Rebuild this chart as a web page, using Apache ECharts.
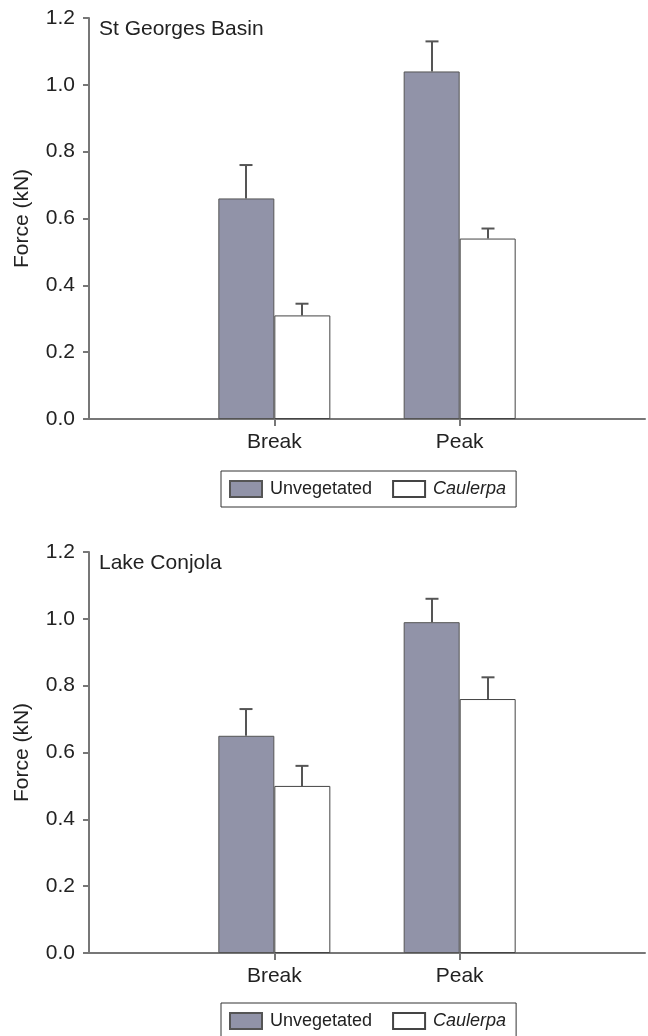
<!DOCTYPE html>
<html>
<head>
<meta charset="utf-8">
<script src="https://cdn.jsdelivr.net/npm/echarts@6/dist/echarts.min.js"></script>
<style>
  html, body { margin: 0; padding: 0; background: #fff; }
  #chart { width: 648px; height: 1036px; }
</style>
</head>
<body>
<div id="chart"></div>
<script>
// categories (empty ends give the extra space either side, like the original axis)
const categories = ['', 'Break', 'Peak', ''];
const seriesNames = ['Unvegetated', 'Caulerpa'];

// St Georges Basin
const stgUnveg = ['-', 0.66, 1.04, '-'];
const stgUnvegErr = [0, 0.10, 0.09, 0];
const stgCaul = ['-', 0.31, 0.54, '-'];
const stgCaulErr = [0, 0.035, 0.03, 0];

// Lake Conjola
const lcUnveg = ['-', 0.65, 0.99, '-'];
const lcUnvegErr = [0, 0.08, 0.07, 0];
const lcCaul = ['-', 0.50, 0.76, '-'];
const lcCaulErr = [0, 0.06, 0.065, 0];

const panelTitles = ['St Georges Basin', 'Lake Conjola'];

const FONT = "'Liberation Sans', Arial, sans-serif";
const AXIS_COLOR = '#777';
const TEXT_COLOR = '#222';
const BAR_W = 56;

const chart = echarts.init(document.getElementById('chart'));

// turn mean + error arrays into [index, mean, err] rows for the custom series
const errRows = (means, errs) =>
  means.map((m, i) => (m === '-' ? null : [i, m, errs[i]])).filter(Boolean);

const errRender = offset => (params, api) => {
  const x = api.value(0);
  const base = api.coord([x, api.value(1)]);
  const top = api.coord([x, api.value(1) + api.value(2)]);
  const cx = Math.round(base[0] + offset);
  const style = { stroke: '#555', lineWidth: 2 };
  return {
    type: 'group',
    children: [
      { type: 'line', shape: { x1: cx, y1: base[1], x2: cx, y2: top[1] }, style },
      { type: 'line', shape: { x1: cx - 6.5, y1: top[1], x2: cx + 6.5, y2: top[1] }, style }
    ]
  };
};

const grids = [
  { left: 89, right: 0, top: 18, height: 401 },
  { left: 89, right: 0, top: 552, height: 401 }
];

const xAxes = grids.map((g, i) => ({
  type: 'category',
  gridIndex: i,
  data: categories,
  boundaryGap: false,
  axisLine: { lineStyle: { color: AXIS_COLOR, width: 2 } },
  axisTick: {
    interval: (idx, val) => val !== '',
    length: 7,
    lineStyle: { color: AXIS_COLOR, width: 2 }
  },
  axisLabel: { interval: 0, margin: 13, color: TEXT_COLOR, fontSize: 21, fontFamily: FONT },
  splitLine: { show: false }
}));

const yAxes = grids.map((g, i) => ({
  type: 'value',
  gridIndex: i,
  min: 0,
  max: 1.2,
  interval: 0.2,
  name: 'Force (kN)',
  nameLocation: 'middle',
  nameGap: 56,
  nameTextStyle: { color: TEXT_COLOR, fontSize: 21, fontFamily: FONT },
  axisLine: { show: true, lineStyle: { color: AXIS_COLOR, width: 2 } },
  axisTick: { show: true, length: 6, lineStyle: { color: AXIS_COLOR, width: 2 } },
  axisLabel: {
    margin: 14,
    color: TEXT_COLOR,
    fontSize: 21,
    fontFamily: FONT,
    formatter: v => v.toFixed(1)
  },
  splitLine: { show: false }
}));

const panels = [
  { unveg: stgUnveg, unvegErr: stgUnvegErr, caul: stgCaul, caulErr: stgCaulErr },
  { unveg: lcUnveg, unvegErr: lcUnvegErr, caul: lcCaul, caulErr: lcCaulErr }
];

const series = [];
panels.forEach((p, i) => {
  series.push({
    name: seriesNames[0],
    type: 'bar',
    xAxisIndex: i,
    yAxisIndex: i,
    data: p.unveg,
    barWidth: BAR_W,
    barGap: '0%',
    itemStyle: { color: '#9193a8', borderColor: '#555', borderWidth: 1 }
  });
  series.push({
    name: seriesNames[1],
    type: 'bar',
    xAxisIndex: i,
    yAxisIndex: i,
    data: p.caul,
    barWidth: BAR_W,
    barGap: '0%',
    itemStyle: { color: '#fff', borderColor: '#444', borderWidth: 1 }
  });
  series.push({
    type: 'custom',
    xAxisIndex: i,
    yAxisIndex: i,
    z: 5,
    renderItem: errRender(-BAR_W / 2),
    encode: { x: 0, y: 1 },
    data: errRows(p.unveg, p.unvegErr)
  });
  series.push({
    type: 'custom',
    xAxisIndex: i,
    yAxisIndex: i,
    z: 5,
    renderItem: errRender(BAR_W / 2),
    encode: { x: 0, y: 1 },
    data: errRows(p.caul, p.caulErr)
  });
});

const legends = [471, 1003].map(top => ({
  data: seriesNames,
  left: 221,
  top: top,
  orient: 'horizontal',
  icon: 'rect',
  itemWidth: 32,
  itemHeight: 16,
  itemGap: 20,
  padding: [9, 10, 9, 8],
  borderColor: '#333',
  borderWidth: 1,
  selectedMode: false,
  formatter: name => (name === 'Caulerpa' ? '{i|' + name + '}' : name),
  textStyle: {
    color: TEXT_COLOR,
    fontSize: 18,
    fontFamily: FONT,
    padding: [0, 0, 0, 3],
    rich: { i: { fontStyle: 'italic', fontSize: 18, fontFamily: FONT, color: TEXT_COLOR } }
  }
}));

const option = {
  animation: false,
  backgroundColor: '#fff',
  title: panelTitles.map((t, i) => ({
    text: t,
    left: 99,
    top: i === 0 ? 19 : 553,
    padding: 0,
    textStyle: { color: TEXT_COLOR, fontSize: 21, fontWeight: 'normal', fontFamily: FONT }
  })),
  grid: grids,
  xAxis: xAxes,
  yAxis: yAxes,
  legend: legends,
  series: series
};

chart.setOption(option);
window.addEventListener('resize', () => chart.resize());
</script>
</body>
</html>
